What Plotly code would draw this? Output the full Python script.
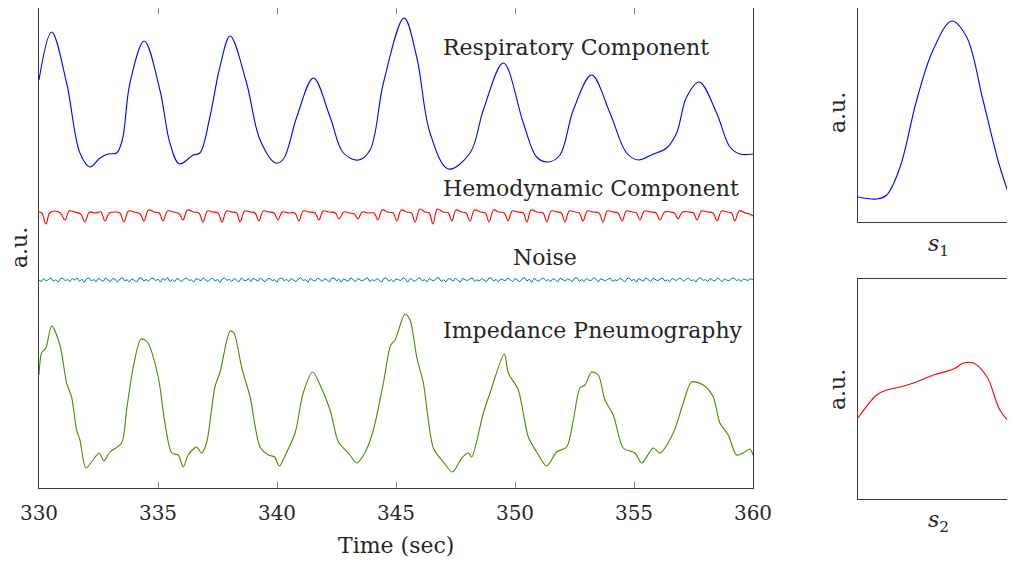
import plotly.graph_objects as go

# ---------------- data (a.u. values) ----------------
resp_t = [330.0, 330.53, 331.16, 331.72, 332.14, 332.56, 332.9, 333.26, 333.5, 333.82,
          334.42, 335.08, 335.5, 335.9, 336.48, 336.76, 337.18, 337.6, 338.03, 338.72,
          339.29, 339.95, 340.27, 340.83, 341.53, 342.23, 342.79, 343.42, 343.91, 344.47,
          345.34, 345.87, 346.43, 347.2, 348.11, 348.67, 349.51, 350.35, 350.91, 351.4,
          351.89, 352.45, 353.22, 353.99, 354.69, 355.18, 355.81, 356.37, 356.79, 357.21,
          357.74, 358.47, 359.03, 359.45, 360.0]
resp_v = [408, 456, 405, 335, 321, 330, 334, 335, 348, 405,
          447, 398, 345, 324, 333, 335, 371, 421, 452, 405,
          348, 325, 329, 371, 410, 371, 335, 328, 338, 405,
          470, 431, 355, 319, 335, 378, 425, 365, 331, 326,
          333, 378, 413, 375, 335, 328, 334, 340, 355, 391,
          406, 375, 341, 334, 334]

hemo_t = [330.00, 330.12, 330.29, 330.45, 330.65, 330.90, 331.09, 331.27, 331.50, 331.75,
          331.93, 332.12, 332.35, 332.60, 332.77, 332.95, 333.20, 333.40, 333.57, 333.76,
          334.00, 334.25, 334.41, 334.60, 334.85, 335.05, 335.21, 335.40, 335.65, 335.90,
          336.05, 336.24, 336.50, 336.72, 336.89, 337.08, 337.30, 337.52, 337.69, 337.88,
          338.10, 338.30, 338.45, 338.64, 338.88, 339.08, 339.24, 339.42, 339.65, 339.88,
          340.04, 340.22, 340.50, 340.75, 340.92, 341.10, 341.35, 341.60, 341.76, 341.94,
          342.20, 342.45, 342.61, 342.80, 343.05, 343.25, 343.40, 343.58, 343.85, 344.08,
          344.24, 344.42, 344.65, 344.88, 345.04, 345.22, 345.45, 345.65, 345.80, 346.00,
          346.22, 346.40, 346.55, 346.74, 346.98, 347.20, 347.35, 347.52, 347.75, 347.95,
          348.11, 348.30, 348.55, 348.75, 348.91, 349.10, 349.32, 349.55, 349.71, 349.88,
          350.12, 350.35, 350.50, 350.68, 350.92, 351.18, 351.34, 351.52, 351.78, 351.95,
          352.10, 352.28, 352.52, 352.70, 352.86, 353.04, 353.30, 353.53, 353.70, 353.88,
          354.12, 354.33, 354.50, 354.68, 354.92, 355.10, 355.25, 355.44, 355.70, 355.93,
          356.09, 356.28, 356.52, 356.70, 356.85, 357.03, 357.28, 357.50, 357.65, 357.84,
          358.10, 358.32, 358.49, 358.68, 358.92, 359.10, 359.24, 359.42, 359.68, 359.85,
          360.00]
hemo_v = [276, 275, 264, 275, 277, 275, 268, 277, 276, 274,
          266, 276, 275, 276, 267, 275, 276, 275, 266, 277,
          276, 274, 267, 278, 276, 275, 267, 277, 276, 274,
          268, 278, 276, 275, 266, 277, 276, 275, 266, 277,
          276, 275, 266, 277, 276, 275, 267, 277, 276, 275,
          268, 276, 275, 275, 267, 277, 276, 275, 268, 277,
          276, 275, 269, 276, 275, 274, 269, 276, 275, 275,
          268, 278, 276, 275, 267, 278, 276, 275, 266, 279,
          276, 275, 264, 279, 276, 275, 267, 278, 276, 275,
          267, 278, 276, 275, 266, 278, 276, 275, 267, 277,
          276, 275, 266, 278, 276, 275, 266, 277, 276, 275,
          266, 277, 276, 275, 267, 277, 276, 275, 266, 277,
          276, 275, 267, 277, 276, 275, 268, 277, 276, 275,
          268, 276, 276, 275, 269, 276, 276, 275, 268, 277,
          276, 275, 267, 277, 276, 275, 267, 277, 275, 274,
          272]

noise_start = 330.0
noise_step = 0.1
noise_v = [208, 206.5, 209.5, 207, 208.5, 210, 206.8, 208.2, 205.9, 209.1, 209.8, 207.2, 208.6, 206.3, 209.4, 207.9, 210.2, 206.6, 208.8, 205.7,
           209.3, 210.1, 207.1, 208.4, 206.2, 209.7, 208.1, 206.7, 210.3, 207.8, 206.4, 209.6, 208.7, 205.8, 208.9, 210.4, 207.3, 208.2, 206.1, 209.2,
           207.7, 206, 209.8, 210.2, 207, 208.5, 206.6, 209.3, 209.9, 207.4, 208.8, 205.9, 209.5, 207.8, 210.5, 206.5, 208.4, 206.2, 209.7, 207.9,
           206.4, 209, 210, 207.5, 208.3, 205.8, 209.4, 208.6, 207.1, 210.1, 208, 206.3, 209.2, 209.6, 206.9, 208.5, 205.6, 209.1, 209.9, 207.6,
           208.7, 206.4, 209.6, 208.2, 206, 210.2, 207.9, 207.2, 209.3, 206.3, 209.8, 208.5, 206.8, 210, 207.9, 206.1, 209.2, 209.5, 207.4, 208.3,
           205.9, 209.4, 210.1, 207.2, 208.8, 206.5, 209.7, 207.8, 206.2, 209.1, 210.4, 207.5, 208.4, 205.8, 209.6, 208, 206.7, 209.9, 208.7, 206.4,
           209.5, 208.2, 206.1, 209.8, 210, 207.1, 208.9, 205.9, 209.3, 207.9, 206.6, 210.2, 208.4, 206.3, 209.7, 207.9, 207.3, 208.6, 210.3, 206.5,
           208.3, 207.2, 209.4, 207.8, 206, 209.9, 209.8, 206.8, 208.5, 206.2, 209.2, 208.3, 207.4, 210.1, 208.7, 205.8, 209.6, 207.9, 206.6, 209.1,
           210.2, 207.1, 208.4, 206, 209.5, 208, 207.2, 209.8, 210.3, 206.5, 208.3, 206.1, 209.3, 208.8, 206.9, 209.9, 208, 205.9, 209.6, 208.4,
           207.3, 209, 210.1, 206.6, 208.2, 207, 209.5, 207.9, 206.2, 209.8, 210.2, 206.8, 208.7, 206.1, 209.2, 208.1, 207.3, 210, 208.5, 206.4,
           209.6, 208.3, 206.2, 209.3, 210.4, 207, 208.8, 205.7, 209.8, 207.9, 206.7, 209.1, 210.1, 207.3, 208.4, 206.5, 209.5, 208.1, 206.1, 210,
           208.7, 207, 209.2, 208.3, 206.2, 209.8, 210.2, 206.8, 208.4, 206.4, 209.6, 207.9, 207.4, 210.3, 208.9, 206, 209.4, 208.1, 207.1, 208.8,
           209.9, 206.5, 208.2, 207.3, 209.6, 208.5, 206.2, 209.2, 210.1, 207.1, 208.8, 205.9, 209.5, 207.9, 206.8, 210.2, 208.3, 206.5, 209.7, 208.4,
           207.2, 209, 210, 206.9, 208.1, 206.3, 209.6, 208.4, 207.5, 210.1, 208.8, 206.6, 209.2, 209.7, 207.2, 208.3, 205.9, 209.4, 210.2, 207.6,
           208.4, 206.5, 209.6, 208.1, 206.9, 210, 208.7, 206.2, 209.2, 207.8, 207.5, 209.4, 210.1, 207.3, 208.5, 206.4, 209.1, 208.2, 207.6, 209.3,
           208.1]

imp_t = [330.0, 330.11, 330.29, 330.53, 330.88, 331.16, 331.37, 331.58, 331.72, 331.97,
         332.21, 332.53, 332.73, 332.98, 333.47, 333.68, 333.96, 334.29, 334.55, 335.01,
         335.29, 335.58, 335.85, 336.06, 336.27, 336.62, 336.83, 337.04, 337.39, 337.61,
         338.03, 338.19, 338.52, 338.87, 339.29, 339.64, 339.9, 340.1, 340.41, 340.76,
         341.1, 341.5, 341.81, 342.23, 342.58, 343.0, 343.36, 343.71, 344.05, 344.47,
         344.78, 344.96, 345.38, 345.59, 345.87, 346.15, 346.57, 346.99, 347.38, 347.76,
         348.04, 348.18, 348.67, 348.95, 349.55, 349.72, 350.14, 350.56, 350.91, 351.33,
         351.75, 352.17, 352.45, 352.73, 352.94, 353.22, 353.5, 353.78, 354.13, 354.55,
         355.04, 355.32, 355.81, 356.09, 356.65, 357.07, 357.42, 357.91, 358.33, 358.61,
         358.96, 359.31, 359.59, 359.87, 360.0]
imp_v = [113, 135, 140, 162, 143, 105, 91, 58, 48, 20,
         26, 35, 27, 36, 45, 78, 121, 149, 146, 111,
         65, 35, 33, 21, 33, 41, 35, 45, 101, 116,
         157, 155, 120, 91, 41, 33, 31, 22, 36, 55,
         95, 116, 103, 78, 46, 35, 25, 36, 58, 105,
         143, 148, 174, 168, 131, 105, 40, 26, 16, 30,
         35, 31, 75, 95, 134, 115, 98, 51, 36, 22,
         36, 41, 68, 100, 103, 116, 113, 88, 73, 40,
         35, 25, 40, 35, 55, 85, 106, 103, 91, 65,
         53, 33, 35, 39, 33]

s1_x = [0, 11.9, 18.3, 26.8, 37.4, 47.8, 59.7, 69.2, 79.6, 90.4, 98.7, 102, 106]
s1_v = [25, 23, 27, 55, 122, 172, 201, 185, 122, 55, 19, 14, 10]
s2_x = [0, 11.9, 18.3, 26.8, 35.3, 48.1, 60.8, 67.3, 73.6, 82.2, 90.4, 98.7, 102, 106]
s2_v = [81, 104, 109, 112, 116, 124, 130, 136, 136, 122, 89, 73, 69, 66]

time_ticks = [330, 335, 340, 345, 350, 355, 360]
labels = ["Respiratory Component", "Hemodynamic Component", "Noise", "Impedance Pneumography"]

# ---------------- figure ----------------
W, H = 1015, 563
OFF = 8          # page offset of the plot div
FONT = "DejaVu Serif"
AX = "#3a3a3a"
TXT = "#262626"


def px(x):
    return max(0.0, min(1.0, (x - OFF) / W))


def py(y):
    return max(0.0, min(1.0, (H + OFF - y) / H))


fig = go.Figure()
lw = 1.1
fig.add_trace(go.Scatter(x=resp_t, y=resp_v, mode="lines",
                         line=dict(color="#0000ff", width=lw, shape="spline", smoothing=1.0), xaxis="x", yaxis="y"))
fig.add_trace(go.Scatter(x=hemo_t, y=hemo_v, mode="lines",
                         line=dict(color="#ff0000", width=lw, shape="spline", smoothing=1.0), xaxis="x", yaxis="y"))
fig.add_trace(go.Scatter(y=noise_v, x0=noise_start, dx=noise_step, mode="lines",
                         line=dict(color="#008080", width=1.0), xaxis="x", yaxis="y"))
fig.add_trace(go.Scatter(x=imp_t, y=imp_v, mode="lines",
                         line=dict(color="#4a8a00", width=lw, shape="spline", smoothing=0.8), xaxis="x", yaxis="y"))
fig.add_trace(go.Scatter(x=s1_x, y=s1_v, mode="lines",
                         line=dict(color="#0000ff", width=lw, shape="spline", smoothing=1.0), xaxis="x2", yaxis="y2"))
fig.add_trace(go.Scatter(x=s2_x, y=s2_v, mode="lines",
                         line=dict(color="#ff0000", width=lw, shape="spline", smoothing=1.0), xaxis="x3", yaxis="y3"))

s_top = (W + OFF - 858) / 1.57   # s value at right end of the figure

noaxis = dict(showticklabels=False, ticks="", showgrid=False, zeroline=False,
              showline=True, linecolor=AX, linewidth=1, automargin=False)

fig.update_layout(
    width=W, height=H, showlegend=False,
    margin=dict(l=0, r=0, t=0, b=0, pad=0, autoexpand=False),
    paper_bgcolor="white", plot_bgcolor="white",
    font=dict(family=FONT, size=20, color=TXT),
    xaxis=dict(domain=[px(39), px(753)], range=[330, 360], tickvals=time_ticks,
               ticks="inside", ticklen=6, tickcolor="#808080", tickwidth=1, ticklabelstandoff=7,
               showline=True, linecolor=AX, linewidth=1, mirror="ticks", automargin=False,
               showgrid=False, zeroline=False, tickfont=dict(size=20, family=FONT, color=TXT)),
    yaxis=dict(domain=[py(488), py(4)], range=[0, 488 - max(4, OFF)], mirror=True, **noaxis),
    xaxis2=dict(domain=[px(858), 1.0], range=[0, s_top], anchor="y2", mirror=True, **noaxis),
    yaxis2=dict(domain=[py(222), py(3)], range=[0, 222 - max(3, OFF)], anchor="x2", mirror=False, **noaxis),
    xaxis3=dict(domain=[px(858), 1.0], range=[0, s_top], anchor="y3", mirror=True, **noaxis),
    yaxis3=dict(domain=[py(499), py(279)], range=[0, 220], anchor="x3", mirror=False, **noaxis),
)

ann_font = dict(family=FONT, size=22, color=TXT)
lab_x = 346.88
annotations = [
    dict(x=lab_x, y=441, xref="x", yref="y", text=labels[0], xanchor="left", yanchor="middle",
         showarrow=False, font=ann_font),
    dict(x=lab_x, y=300, xref="x", yref="y", text=labels[1], xanchor="left", yanchor="middle",
         showarrow=False, font=ann_font),
    dict(x=351.26, y=231, xref="x", yref="y", text=labels[2], xanchor="center", yanchor="middle",
         showarrow=False, font=ann_font),
    dict(x=lab_x, y=158, xref="x", yref="y", text=labels[3], xanchor="left", yanchor="middle",
         showarrow=False, font=ann_font),
    dict(x=px(19), y=py(248), xref="paper", yref="paper", text="a.u.", textangle=-90, showarrow=False,
         xanchor="center", yanchor="middle", font=ann_font),
    dict(x=px(396), y=py(545), xref="paper", yref="paper", text="Time (sec)", showarrow=False,
         xanchor="center", yanchor="middle", font=ann_font),
    dict(x=px(837), y=py(113), xref="paper", yref="paper", text="a.u.", textangle=-90, showarrow=False,
         xanchor="center", yanchor="middle", font=ann_font),
    dict(x=px(837), y=py(390), xref="paper", yref="paper", text="a.u.", textangle=-90, showarrow=False,
         xanchor="center", yanchor="middle", font=ann_font),
    dict(x=px(938), y=py(245), xref="paper", yref="paper", text="<i>s</i><sub>1</sub>", showarrow=False,
         xanchor="center", yanchor="middle", font=ann_font),
    dict(x=px(938), y=py(521), xref="paper", yref="paper", text="<i>s</i><sub>2</sub>", showarrow=False,
         xanchor="center", yanchor="middle", font=ann_font),
]
fig.update_layout(annotations=annotations)

fig.write_html("out.html")
